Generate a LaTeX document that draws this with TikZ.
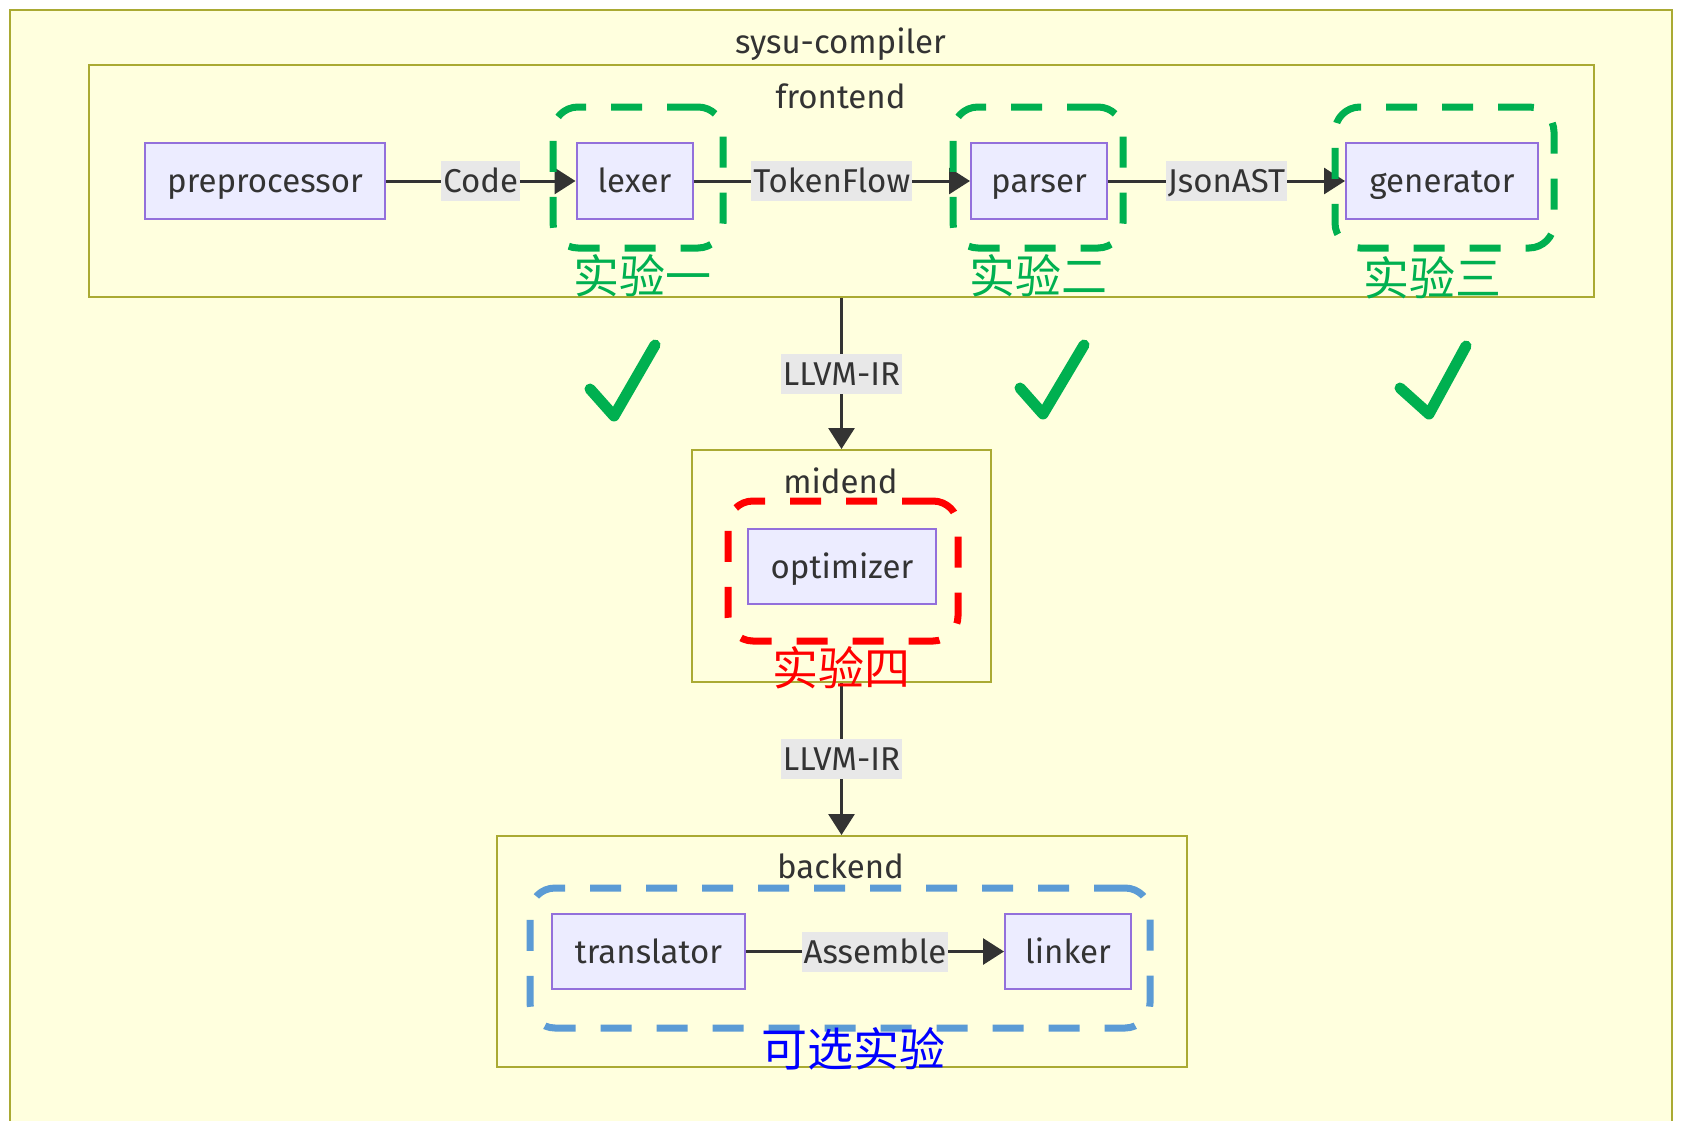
\documentclass[tikz,border=0pt]{standalone}
\usepackage{fontspec}
\setmainfont{Fira Sans}
\newfontfamily\cjk{Noto Sans CJK SC}
\usetikzlibrary{arrows.meta}
\definecolor{subfill}{HTML}{FFFFDE}
\definecolor{subdraw}{HTML}{AAAA33}
\definecolor{nodefill}{HTML}{ECECFF}
\definecolor{nodedraw}{HTML}{9370DB}
\definecolor{txt}{HTML}{333333}
\definecolor{lblbg}{HTML}{E8E8E8}
\definecolor{okgreen}{HTML}{00B050}
\definecolor{optblue}{HTML}{5B9BD5}
\begin{document}
\begin{tikzpicture}[x=1pt,y=-1pt,
  every node/.style={text=txt},
  subbox/.style={draw=subdraw,fill=subfill,line width=2pt,inner sep=0pt},
  title/.style={font=\fontsize{33}{40}\selectfont,inner sep=0pt,text height=23pt,text depth=0pt},
  proc/.style={draw=nodedraw,fill=nodefill,line width=2pt,minimum height=76pt,inner sep=0pt,text height=23pt,text depth=0pt,font=\fontsize{33}{40}\selectfont},
  edge/.style={draw=txt,line width=3pt,-{Triangle[length=21pt,width=26pt]}},
  elabel/.style={fill=lblbg,inner xsep=2pt,inner ysep=0pt,minimum height=40pt,text height=23pt,text depth=0pt,font=\fontsize{33}{40}\selectfont},
  hl/.style={line width=7pt,rounded corners=25pt,dash pattern=on 31pt off 25pt,minimum height=141pt,inner sep=0pt},
  cjklabel/.style={font=\cjk\fontsize{46}{50}\selectfont,inner sep=0pt},
  tick/.style={draw=okgreen,line width=11pt,line cap=round,line join=round}
]
\useasboundingbox (0,0) rectangle (1681,1120);
\fill[white] (0,0) rectangle (1681,1120);
\clip (0,0) rectangle (1681,1120);

% containers
\node[subbox,minimum width=1662pt,minimum height=1130pt] (sysu) at (841,575) {};
\node[title] (sysutitle) at (840.5,42) {sysu-compiler};
\node[subbox,minimum width=1505pt,minimum height=232pt] (frontend) at (841.5,181) {};
\node[title] (fronttitle) at (840.5,97) {frontend};
\node[subbox,minimum width=299pt,minimum height=232pt] (midend) at (841.5,566) {};
\node[title] (midtitle) at (840.5,482) {midend};
\node[subbox,minimum width=690pt,minimum height=231pt] (backend) at (841.5,951.5) {};
\node[title] (backtitle) at (840.5,867) {backend};

% process nodes
\node[proc,minimum width=240pt] (pre) at (265,181) {preprocessor};
\node[proc,minimum width=116pt] (lexer) at (634.5,181) {lexer};
\node[proc,minimum width=136pt] (parser) at (1039,181) {parser};
\node[proc,minimum width=192pt] (gen) at (1442,181) {generator};
\node[proc,minimum width=188pt,minimum height=75pt] (opt) at (842,566.5) {optimizer};
\node[proc,minimum width=193pt,minimum height=75pt] (trans) at (648.5,951.5) {translator};
\node[proc,minimum width=126pt,minimum height=75pt] (linker) at (1068,951.5) {linker};

% edges
\draw[edge] (pre) -- node[elabel] {Code} (lexer);
\draw[edge] (lexer) -- node[elabel] {TokenFlow} (parser);
\draw[edge] (parser) -- node[elabel] {JsonAST} (gen);
\draw[edge] (frontend.south) -- node[elabel] {LLVM-IR} (midend.north);
\draw[edge] (midend.south) -- node[elabel] {LLVM-IR} (backend.north);
\draw[edge] (trans) -- node[elabel] {Assemble} (linker);

% highlight boxes
\node[hl,draw=okgreen,minimum width=170pt] (hl1) at (638,177.5) {};
\node[hl,draw=okgreen,minimum width=170pt] (hl2) at (1038,177.5) {};
\node[hl,draw=okgreen,minimum width=219pt] (hl3) at (1444.5,177.5) {};
\node[hl,draw=red,minimum width=230pt,minimum height=140pt] (hl4) at (843,571) {};
\node[hl,draw=optblue,minimum width=620pt,minimum height=140pt] (hl5) at (840,958) {};

% labels
\node[cjklabel,text=okgreen] (lab1) at (642,276) {实验一};
\node[cjklabel,text=okgreen] (lab2) at (1038,276) {实验二};
\node[cjklabel,text=okgreen] (lab3) at (1432,278) {实验三};
\node[cjklabel,text=red] (lab4) at (841,668) {实验四};
\node[cjklabel,text=blue] (lab5) at (853,1049) {可选实验};

% ticks
\draw[tick] (590,389) -- (614,416) -- (655,345);
\draw[tick] (1020,388) -- (1043,414) -- (1084,345);
\draw[tick] (1400,388) -- (1429,414) -- (1466,346);
\end{tikzpicture}
\end{document}
